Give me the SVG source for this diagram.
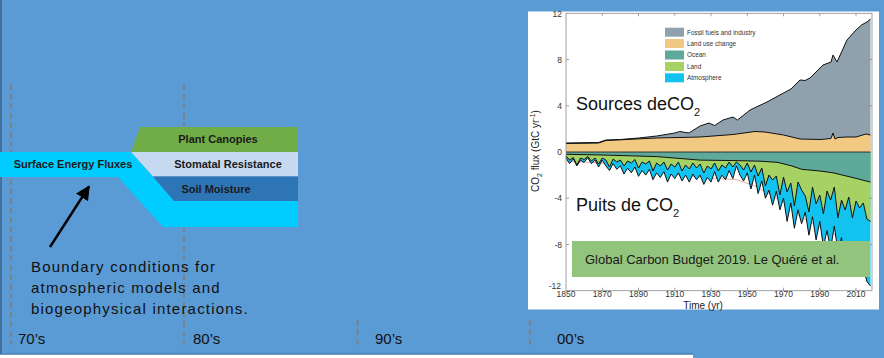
<svg xmlns="http://www.w3.org/2000/svg" width="884" height="358" viewBox="0 0 884 358">
<style>
.dash{stroke:#7f7f7f;stroke-width:1.8;stroke-dasharray:6 3.5;fill:none}
.dec{font-family:"Liberation Sans",Arial,sans-serif;font-size:15px;fill:#111}
.band{font-family:"Liberation Sans",Arial,sans-serif;font-size:11px;font-weight:bold;fill:#1a1a1a;text-anchor:middle}
.note{font-family:"Liberation Sans",Arial,sans-serif;font-size:15px;letter-spacing:1.2px;fill:#111}
.ax{font-family:"Liberation Sans",Arial,sans-serif;font-size:8.5px;fill:#333}
.leg{font-family:"Liberation Sans",Arial,sans-serif;font-size:6.4px;fill:#333}
.big{font-family:"Liberation Sans",Arial,sans-serif;font-size:18px;fill:#111}
.blk{fill:none;stroke:#111;stroke-width:1;stroke-linejoin:round}
</style>
<defs>
<marker id="ah" viewBox="0 0 10 10" refX="9" refY="5" markerWidth="6" markerHeight="6" orient="auto" markerUnits="strokeWidth">
<path d="M0,0 L10,5 L0,10 Z" fill="#000"/>
</marker>
</defs>
<rect x="0" y="0" width="884" height="358" fill="#5B9BD5"/>
<rect x="0" y="354.5" width="693" height="3.5" fill="#ffffff"/>
<line x1="0" y1="354" x2="693" y2="354" stroke="#41719C" stroke-width="1.2"/>
<line x1="1" y1="0" x2="1" y2="354" stroke="#41719C" stroke-width="2"/>

<g id="timeline">
<line class="dash" x1="11" y1="84" x2="11" y2="345"/>
<line class="dash" x1="184" y1="84" x2="184" y2="345"/>
<line class="dash" x1="357.5" y1="320" x2="357.5" y2="345"/>
<line class="dash" x1="530" y1="320" x2="530" y2="345"/>
<text class="dec" x="18" y="344">70’s</text>
<text class="dec" x="193" y="344">80’s</text>
<text class="dec" x="375" y="344">90’s</text>
<text class="dec" x="557" y="344">00’s</text>
</g>

<g id="surface-energy-fluxes">
<polygon points="0,152 131,152 174,201 298,201 298,227 163,227 118,177 0,177" fill="#00CCFF"/>
<text class="band" x="73" y="168">Surface Energy Fluxes</text>
</g>
<g id="plant-canopies">
<polygon points="140,127 298,127 298,152 131,152" fill="#70AD47"/>
<text class="band" x="218" y="143">Plant Canopies</text>
</g>
<g id="stomatal-resistance">
<polygon points="131,152 298,152 298,176.5 153,176.5" fill="#C5D9F1"/>
<text class="band" x="228" y="168">Stomatal Resistance</text>
</g>
<g id="soil-moisture">
<polygon points="153,176.5 298,176.5 298,201 174,201" fill="#2E75B6"/>
<text class="band" x="216" y="193">Soil Moisture</text>
</g>

<g id="connectors">
<line x1="50" y1="247" x2="89" y2="186.5" stroke="#000" stroke-width="2.4" marker-end="url(#ah)"/>
</g>

<g id="boundary-note">
<text class="note" x="31" y="272">Boundary conditions for</text>
<text class="note" x="31" y="293">atmospheric models and</text>
<text class="note" x="31" y="314">biogeophysical interactions.</text>
</g>

<g id="carbon-chart">
<rect x="528" y="11.5" width="351" height="298" fill="#ffffff"/>
<polyline fill="none" stroke="#E3AAAA" stroke-width="1" points="566,161.2 602,163 638.5,167.5 674.8,174 700,177.4 737,179.7 755,186 775,197 790,206 800,216.7 820,227 838,236.7 856,262 866.9,279 870.5,282"/>
<path fill="#12C3F0" d="M566,152 L566,157.8 569.6,163.6 573.3,158.9 576.9,165.9 580.5,160.1 584.1,162.4 587.8,157.8 591.4,163.6 595,160.1 598.6,167 602.3,160.1 605.9,165.9 609.5,170.5 613.1,163.6 616.8,169.3 620.4,165.9 624,174 627.6,168.2 631.3,172.8 634.9,167 638.5,176.3 642.1,170.5 645.8,175.1 649.4,169.3 653,179.7 656.6,172.8 660.3,177.4 663.9,171.7 667.5,182.1 671.1,174 674.8,178.6 678.4,172.8 682,180.9 685.6,175.1 689.3,182.1 692.9,174 696.5,179.7 700.1,175.1 703.8,184.4 707.4,177.4 711,182.1 714.6,171.7 718.3,182.1 721.9,175.1 725.5,179.7 729.1,170.5 732.8,178.6 736.4,165.9 740,175.1 743.6,180.9 747.3,172.8 750.9,189 754.5,175.1 758.1,193.6 761.8,180.9 765.4,198.2 769,190.1 772.6,205.2 776.3,191.3 779.9,209.8 783.5,198.2 787.1,221.4 790.8,202.9 794.4,228.3 798,209.8 801.6,223.7 805.3,212.1 808.9,235.2 812.5,216.7 816.1,239.9 819.8,221.4 823.4,246.8 827,230.6 830.6,249.1 834.3,226 837.9,251.4 841.5,237.5 845.1,260.7 848.8,246.8 852.4,265.3 856,256 859.6,274.5 863.3,267.6 866.9,281.5 870.5,286.1 L870.5,152 Z"/>
<path fill="#A5D263" d="M566,152 L566,156 569.6,160 573.3,157.5 576.9,165 580.5,158 584.1,159.5 587.8,156.5 591.4,161 595,158 598.6,164 602.3,158 605.9,160 609.5,167 613.1,159 616.8,162 620.4,160 624,166 627.6,161 631.3,163 634.9,159.5 638.5,168 642.1,162 645.8,164 649.4,161 653,171 656.6,163 660.3,166 663.9,162 667.5,170 671.1,164 674.8,167 678.4,162 682,171 685.6,165 689.3,169 692.9,163 696.5,168 700.1,164 703.8,173 707.4,166 711,169 714.6,163 718.3,171 721.9,165 725.5,168 729.1,162 732.8,167 736.4,162 740,165 743.6,170 747.3,163 750.9,172 754.5,165 758.1,176 761.8,168 765.4,186 769,175 772.6,180 776.3,176 779.9,195 783.5,177 787.1,192 790.8,183 794.4,206 798,182 801.6,190 805.3,196 808.9,212 812.5,187 816.1,204 819.8,195 823.4,214 827,191 830.6,200 834.3,187 837.9,218 841.5,200 845.1,210 848.8,197 852.4,218 856,201 859.6,208 863.3,203 866.9,219 870.5,221.4 L870.5,152 Z"/>
<path fill="#5FA99A" d="M566,152 L566,154.3 602,155 656.6,156.6 700,160.1 730,160.5 760,161.2 778,162.4 792,166 801.6,169.3 820,171 833,172.8 852,177.4 870.5,182.1 L870.5,152 Z"/>
<polyline class="blk" stroke-width="0.8" points="566,157.8 569.6,163.6 573.3,158.9 576.9,165.9 580.5,160.1 584.1,162.4 587.8,157.8 591.4,163.6 595,160.1 598.6,167 602.3,160.1 605.9,165.9 609.5,170.5 613.1,163.6 616.8,169.3 620.4,165.9 624,174 627.6,168.2 631.3,172.8 634.9,167 638.5,176.3 642.1,170.5 645.8,175.1 649.4,169.3 653,179.7 656.6,172.8 660.3,177.4 663.9,171.7 667.5,182.1 671.1,174 674.8,178.6 678.4,172.8 682,180.9 685.6,175.1 689.3,182.1 692.9,174 696.5,179.7 700.1,175.1 703.8,184.4 707.4,177.4 711,182.1 714.6,171.7 718.3,182.1 721.9,175.1 725.5,179.7 729.1,170.5 732.8,178.6 736.4,165.9 740,175.1 743.6,180.9 747.3,172.8 750.9,189 754.5,175.1 758.1,193.6 761.8,180.9 765.4,198.2 769,190.1 772.6,205.2 776.3,191.3 779.9,209.8 783.5,198.2 787.1,221.4 790.8,202.9 794.4,228.3 798,209.8 801.6,223.7 805.3,212.1 808.9,235.2 812.5,216.7 816.1,239.9 819.8,221.4 823.4,246.8 827,230.6 830.6,249.1 834.3,226 837.9,251.4 841.5,237.5 845.1,260.7 848.8,246.8 852.4,265.3 856,256 859.6,274.5 863.3,267.6 866.9,281.5 870.5,286.1"/>
<polyline class="blk" stroke-width="1.1" points="566,156 569.6,160 573.3,157.5 576.9,165 580.5,158 584.1,159.5 587.8,156.5 591.4,161 595,158 598.6,164 602.3,158 605.9,160 609.5,167 613.1,159 616.8,162 620.4,160 624,166 627.6,161 631.3,163 634.9,159.5 638.5,168 642.1,162 645.8,164 649.4,161 653,171 656.6,163 660.3,166 663.9,162 667.5,170 671.1,164 674.8,167 678.4,162 682,171 685.6,165 689.3,169 692.9,163 696.5,168 700.1,164 703.8,173 707.4,166 711,169 714.6,163 718.3,171 721.9,165 725.5,168 729.1,162 732.8,167 736.4,162 740,165 743.6,170 747.3,163 750.9,172 754.5,165 758.1,176 761.8,168 765.4,186 769,175 772.6,180 776.3,176 779.9,195 783.5,177 787.1,192 790.8,183 794.4,206 798,182 801.6,190 805.3,196 808.9,212 812.5,187 816.1,204 819.8,195 823.4,214 827,191 830.6,200 834.3,187 837.9,218 841.5,200 845.1,210 848.8,197 852.4,218 856,201 859.6,208 863.3,203 866.9,219 870.5,221.4"/>
<polyline class="blk" stroke-width="0.8" points="566,154.3 602,155 656.6,156.6 700,160.1 730,160.5 760,161.2 778,162.4 792,166 801.6,169.3 820,171 833,172.8 852,177.4 870.5,182.1"/>
<path fill="#8FA1AD" d="M566,152 L566,143 598.6,142.5 605.9,140 620.4,139.5 638.5,138 656.6,136 674.8,133 679.5,131.5 689,133 700,126 709,123 714.6,125.5 723,120 733,117 737.5,120 750,110 767,102 783.5,93 791,89 800,80 805,80.5 810,78 823,65 831,62 833,55 837,62 847,40 856,30 861.5,25 866.9,22 870.5,19 L870.5,152 Z"/>
<path fill="#F2C983" d="M566,152 L566,143.5 598.6,143 605.9,140.5 656.6,138 700,137 733,134.5 755,131.5 765,132 783.5,135 800,139 820,139.5 831,138.5 833,133 835,139 838,137.5 847,137 856,137 866,134 870.5,135 L870.5,152 Z"/>
<polyline class="blk" stroke-width="1.1" points="566,143 598.6,142.5 605.9,140 620.4,139.5 638.5,138 656.6,136 674.8,133 679.5,131.5 689,133 700,126 709,123 714.6,125.5 723,120 733,117 737.5,120 750,110 767,102 783.5,93 791,89 800,80 805,80.5 810,78 823,65 831,62 833,55 837,62 847,40 856,30 861.5,25 866.9,22 870.5,19"/>
<polyline class="blk" stroke-width="0.8" points="566,143.5 598.6,143 605.9,140.5 656.6,138 700,137 733,134.5 755,131.5 765,132 783.5,135 800,139 820,139.5 831,138.5 833,133 835,139 838,137.5 847,137 856,137 866,134 870.5,135"/>
<line x1="566" y1="152" x2="870.5" y2="152" stroke="#111" stroke-width="0.8"/>
<rect x="566" y="13.3" width="306" height="277.4" fill="none" stroke="#8a8a8a" stroke-width="0.8"/>
<path stroke="#8a8a8a" stroke-width="0.8" fill="none" d="M566,59.5h3M566,105.8h3M566,198.2h3M566,244.5h3M872,59.5h-3M872,105.8h-3M872,198.2h-3M872,244.5h-3M602.3,290.7v-3M638.5,290.7v-3M674.8,290.7v-3M711,290.7v-3M747.3,290.7v-3M783.5,290.7v-3M819.8,290.7v-3M856,290.7v-3M602.3,13.3v3M638.5,13.3v3M674.8,13.3v3M711,13.3v3M747.3,13.3v3M783.5,13.3v3M819.8,13.3v3M856,13.3v3"/>
<g class="ax" text-anchor="end">
<text x="562" y="16.5">12</text>
<text x="562" y="62.7">8</text>
<text x="562" y="109">4</text>
<text x="562" y="155.2">0</text>
<text x="562" y="201.4">-4</text>
<text x="562" y="247.7">-8</text>
<text x="561" y="289">-12</text>
</g>
<g class="ax" text-anchor="middle">
<text x="566" y="297">1850</text>
<text x="602.3" y="297">1870</text>
<text x="638.5" y="297">1890</text>
<text x="674.8" y="297">1910</text>
<text x="711" y="297">1930</text>
<text x="747.3" y="297">1950</text>
<text x="783.5" y="297">1970</text>
<text x="819.8" y="297">1990</text>
<text x="856" y="297">2010</text>
</g>
<text x="703" y="308.5" text-anchor="middle" font-family="Liberation Sans, Arial, sans-serif" font-size="10" fill="#222">Time (yr)</text>
<text transform="translate(539,151) rotate(-90)" text-anchor="middle" font-family="Liberation Sans, Arial, sans-serif" font-size="10" fill="#222">CO<tspan font-size="7" dy="3">2</tspan><tspan dy="-3"> flux (GtC yr</tspan><tspan font-size="7" dy="-4">-1</tspan><tspan dy="4">)</tspan></text>
<rect x="665" y="27.7" width="19" height="9" fill="#8FA1AD"/>
<rect x="665" y="39" width="19" height="9" fill="#F2C983"/>
<rect x="665" y="50.5" width="19" height="9" fill="#5FA99A"/>
<rect x="665" y="62" width="19" height="9" fill="#A5D263"/>
<rect x="665" y="73.3" width="19" height="9" fill="#12C3F0"/>
<text class="leg" x="687" y="34.5">Fossil fuels and industry</text>
<text class="leg" x="687" y="45.8">Land use change</text>
<text class="leg" x="687" y="57.2">Ocean</text>
<text class="leg" x="687" y="68.6">Land</text>
<text class="leg" x="687" y="80">Atmosphere</text>
<text class="big" x="576" y="110">Sources deCO<tspan font-size="11" dy="6">2</tspan></text>
<text class="big" x="576" y="211">Puits de CO<tspan font-size="11" dy="6">2</tspan></text>
<rect x="572" y="241" width="298" height="36" fill="#93C47D"/>
<text x="585" y="264" font-family="Liberation Sans, Arial, sans-serif" font-size="13" fill="#1a1a1a">Global Carbon Budget 2019. Le Quéré et al.</text>
</g>
</svg>
